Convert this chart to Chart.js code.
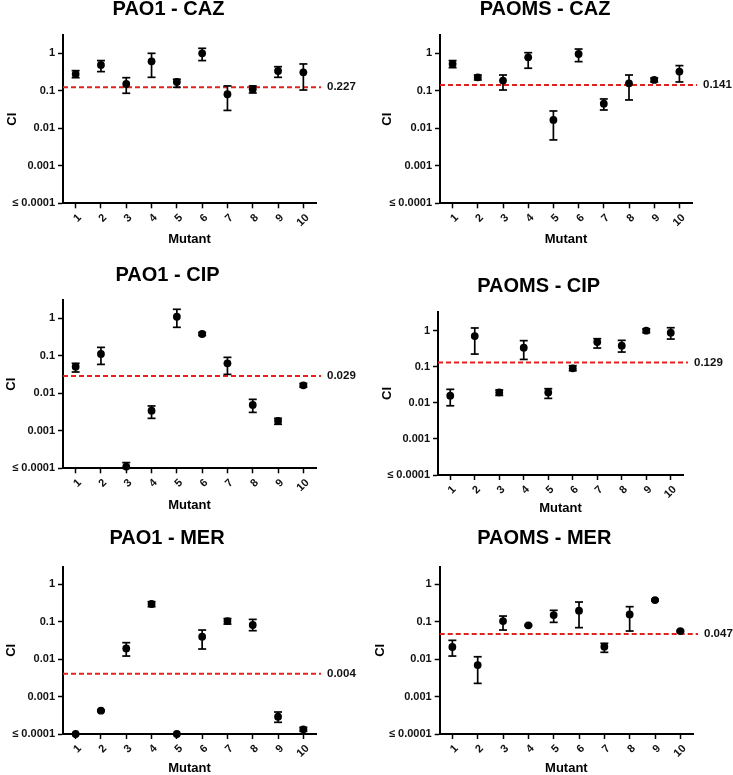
<!DOCTYPE html>
<html><head><meta charset="utf-8">
<script src="https://cdn.jsdelivr.net/npm/chart.js@4.4.1/dist/chart.umd.min.js"></script>
<style>
html,body{margin:0;padding:0;background:#fff;}
#wrap{position:relative;width:733px;height:775px;overflow:hidden;background:#fff;}
canvas{position:absolute;}
</style></head><body><div id="wrap"></div>
<script>
// ---------- data ----------
const mutants = ['1','2','3','4','5','6','7','8','9','10'];
const mutantPositions = [1,2,3,4,5,6,7,8,9,10];
const yTickValues = [0.0001, 0.001, 0.01, 0.1, 1];
const yTickLabels = ['≤ 0.0001', '0.001', '0.01', '0.1', '1'];
const panelTitles = ['PAO1 - CAZ', 'PAOMS - CAZ', 'PAO1 - CIP', 'PAOMS - CIP', 'PAO1 - MER', 'PAOMS - MER'];
const cutoffValues = [0.124, 0.143, 0.029, 0.132, 0.00406, 0.0464];
const cutoffLabels = ['0.227', '0.141', '0.029', '0.129', '0.004', '0.047'];
const yAxisMax = [3.08, 3.08, 3.08, 3.3, 2.9, 2.9];

const pao1CazCI   = [0.28, 0.49, 0.152, 0.61, 0.172, 1.0, 0.081, 0.11, 0.338, 0.311];
const pao1CazHigh = [0.345, 0.64, 0.224, 1.0, 0.203, 1.36, 0.135, 0.135, 0.44, 0.52];
const pao1CazLow  = [0.224, 0.325, 0.086, 0.229, 0.124, 0.64, 0.030, 0.0875, 0.229, 0.105];

const paomsCazCI   = [0.52, 0.229, 0.187, 0.78, 0.0167, 0.96, 0.0455, 0.158, 0.195, 0.325];
const paomsCazHigh = [0.64, 0.264, 0.264, 1.04, 0.029, 1.3, 0.0606, 0.264, 0.22, 0.47];
const paomsCazLow  = [0.415, 0.195, 0.105, 0.40, 0.0049, 0.6, 0.0308, 0.057, 0.172, 0.172];

const pao1CipCI   = [0.0514, 0.112, 0.000111, 0.00345, 1.1, 0.382, 0.063, 0.0049, 0.00183, 0.0163];
const pao1CipHigh = [0.063, 0.168, 0.000142, 0.0046, 1.74, 0.42, 0.091, 0.0069, 0.00215, 0.0183];
const pao1CipLow  = [0.037, 0.059, 0.0001, 0.00215, 0.575, 0.35, 0.032, 0.0031, 0.00149, 0.0146];

const paomsCipCI   = [0.0158, 0.71, 0.0195, 0.338, 0.0195, 0.0904, 0.485, 0.384, 1.0, 0.88];
const paomsCipHigh = [0.0237, 1.19, 0.0227, 0.53, 0.0247, 0.107, 0.6, 0.54, 1.13, 1.21];
const paomsCipLow  = [0.0083, 0.225, 0.0161, 0.16, 0.0133, 0.078, 0.331, 0.256, 0.88, 0.587];

const pao1MerCI   = [0.0001, 0.000419, 0.0192, 0.293, 0.0001, 0.0394, 0.103, 0.0807, 0.00029, 0.000133];
const pao1MerHigh = [null, 0.00044, 0.0273, 0.338, null, 0.0593, 0.12, 0.114, 0.000386, 0.00015];
const pao1MerLow  = [null, 0.0004, 0.012, 0.249, null, 0.0185, 0.0855, 0.057, 0.000205, 0.000118];

const paomsMerCI   = [0.0209, 0.0069, 0.103, 0.079, 0.149, 0.195, 0.0213, 0.155, 0.374, 0.0558];
const paomsMerHigh = [0.0315, 0.0115, 0.14, 0.083, 0.199, 0.331, 0.0262, 0.249, 0.39, 0.058];
const paomsMerLow  = [0.012, 0.00224, 0.0593, 0.075, 0.095, 0.0686, 0.0151, 0.0558, 0.355, 0.053];

const panelSeries = [
  {ci: pao1CazCI, hi: pao1CazHigh, lo: pao1CazLow},
  {ci: paomsCazCI, hi: paomsCazHigh, lo: paomsCazLow},
  {ci: pao1CipCI, hi: pao1CipHigh, lo: pao1CipLow},
  {ci: paomsCipCI, hi: paomsCipHigh, lo: paomsCipLow},
  {ci: pao1MerCI, hi: pao1MerHigh, lo: pao1MerLow},
  {ci: paomsMerCI, hi: paomsMerHigh, lo: paomsMerLow}
];

// ---------- layout (pixel geometry of each panel) ----------
const panelBoxes = [
  {left:0,   top:0,   w:367, h:260, plotL:63,   plotR:316, plotT:35,   plotB:203.3, titleX:168.5, titleY:9.5,  ciX:12, mutantY:239.3},
  {left:367, top:0,   w:366, h:260, plotL:73,   plotR:325, plotT:35,   plotB:203.3, titleX:178,   titleY:9.5,  ciX:20, mutantY:239.3},
  {left:0,   top:260, w:367, h:260, plotL:63,   plotR:316, plotT:40,   plotB:208.3, titleX:167.5, titleY:15,   ciX:11, mutantY:245},
  {left:367, top:260, w:366, h:260, plotL:71,   plotR:316, plotT:52,   plotB:215,   titleX:171.7, titleY:26.7, ciX:20, mutantY:248.3},
  {left:0,   top:520, w:367, h:255, plotL:63,   plotR:316, plotT:46.7, plotB:214,   titleX:167,   titleY:18.3, ciX:11, mutantY:248.3},
  {left:367, top:520, w:366, h:255, plotL:72.7, plotR:326, plotT:46.7, plotB:214,   titleX:177.3, titleY:18.3, ciX:13, mutantY:248.3}
];

const SANS = '"Liberation Sans", Arial, Helvetica, sans-serif';
const TICKFONT = '"Liberation Sans", "DejaVu Sans", sans-serif';
Chart.defaults.font.family = SANS;
Chart.defaults.color = '#000';

const cutoffLabelPlugin = {
  id: 'cutoffLabel',
  afterDatasetsDraw(chart, args, opts) {
    const {ctx, chartArea} = chart;
    const py = chart.scales.y.getPixelForValue(opts.value);
    ctx.save();
    ctx.font = 'bold 11.5px ' + SANS;
    ctx.fillStyle = '#111';
    ctx.textAlign = 'left';
    ctx.textBaseline = 'middle';
    ctx.fillText(opts.text, chartArea.right + 11, py);
    ctx.restore();
  }
};

function whiskers(lo, hi) {
  const pts = [];
  mutantPositions.forEach((x, i) => {
    if (lo[i] == null || hi[i] == null) return;
    pts.push({x, y: lo[i]}, {x, y: hi[i]}, {x, y: null});
  });
  return pts;
}
function pointsOf(arr) {
  const pts = [];
  mutantPositions.forEach((x, i) => { if (arr[i] != null) pts.push({x, y: arr[i]}); });
  return pts;
}

const wrap = document.getElementById('wrap');
panelBoxes.forEach((b, idx) => {
  const cv = document.createElement('canvas');
  cv.width = b.w; cv.height = b.h;
  cv.style.left = b.left + 'px'; cv.style.top = b.top + 'px';
  cv.style.width = b.w + 'px'; cv.style.height = b.h + 'px';
  wrap.appendChild(cv);

  const titleLH = 20 * 1.2, axisLH = 13 * 1.2;
  const padL = 0;
  const yW = b.plotL - padL;
  // invisible spacer on the right so that the chart title is centred like the original
  const spacerW = Math.max(0, 2 * b.titleX - padL - b.plotR);
  const padR = b.w - b.plotR - spacerW;
  const yTitlePad = b.ciX - padL - axisLH / 2;
  const tPadTop = b.titleY - titleLH / 2;
  const tPadBottom = b.plotT - titleLH - tPadTop;
  const xH = b.h - b.plotB;
  const xTitlePadBottom = b.h - b.mutantY - axisLH / 2;

  const s = panelSeries[idx];
  const c = cutoffValues[idx];

  new Chart(cv, {
    type: 'scatter',
    data: {
      datasets: [
        { label: 'CI', data: pointsOf(s.ci), pointStyle: 'circle', pointRadius: 3.9,
          backgroundColor: '#000', borderColor: '#000', borderWidth: 0, clip: false },
        { label: 'upper', data: pointsOf(s.hi), pointStyle: 'line', pointRadius: 4,
          borderColor: '#000', borderWidth: 1.7, clip: false },
        { label: 'lower', data: pointsOf(s.lo), pointStyle: 'line', pointRadius: 4,
          borderColor: '#000', borderWidth: 1.7, clip: false },
        { label: 'error', data: whiskers(s.lo, s.hi), showLine: true, spanGaps: false, pointRadius: 0,
          borderColor: '#000', borderWidth: 1.7, clip: false },
        { label: 'cutoff', data: [{x: 0.5, y: c}, {x: 10.7, y: c}], showLine: true, pointRadius: 0,
          borderColor: '#e4211c', borderWidth: 2, borderDash: [5, 3], clip: false }
      ]
    },
    options: {
      responsive: false,
      animation: false,
      devicePixelRatio: 1,
      layout: { padding: { left: padL, right: padR, top: 0, bottom: 0 } },
      plugins: {
        legend: { display: false },
        tooltip: { enabled: false },
        title: { display: true, text: panelTitles[idx], color: '#000',
          font: { family: SANS, size: 20, weight: 'bold', lineHeight: 1.2 },
          padding: { top: tPadTop, bottom: tPadBottom } },
        cutoffLabel: { value: c, text: cutoffLabels[idx] }
      },
      scales: {
        x: {
          type: 'linear', min: 0.5, max: 10.5,
          afterBuildTicks: sc => { sc.ticks = mutantPositions.map(v => ({value: v})); },
          afterFit: sc => { sc.height = xH; },
          ticks: { callback: (v, i) => mutants[i], minRotation: 45, maxRotation: 45, autoSkip: false,
            padding: 3, labelOffset: 4, color: '#111', font: { family: SANS, size: 11, weight: 'bold' } },
          grid: { drawOnChartArea: false, drawTicks: true, tickLength: 5, tickColor: '#000', tickWidth: 1.5 },
          border: { display: true, color: '#000', width: 2 },
          title: { display: true, text: 'Mutant', color: '#000',
            font: { family: SANS, size: 13, weight: 'bold', lineHeight: 1.2 },
            padding: { top: 0, bottom: xTitlePadBottom } }
        },
        y: {
          type: 'logarithmic', min: 0.0001, max: yAxisMax[idx],
          afterBuildTicks: sc => { sc.ticks = yTickValues.map(v => ({value: v})); },
          afterFit: sc => { sc.width = yW; },
          ticks: { callback: function(v, i) { return yTickLabels[yTickValues.indexOf(v)] ?? yTickLabels[i]; },
            autoSkip: false, padding: 3, color: '#111',
            font: { family: TICKFONT, size: 11, weight: 'bold' } },
          grid: { drawOnChartArea: false, drawTicks: true, tickLength: 5, tickColor: '#000', tickWidth: 1.5 },
          border: { display: true, color: '#000', width: 2 },
          title: { display: true, text: 'CI', color: '#000',
            font: { family: SANS, size: 13, weight: 'bold', lineHeight: 1.2 },
            padding: { top: yTitlePad, bottom: 0 } }
        },
        spacer: {
          type: 'linear', position: 'right', display: true,
          afterFit: sc => { sc.width = spacerW; },
          ticks: { display: false },
          grid: { display: false, drawTicks: false },
          border: { display: false },
          title: { display: false }
        }
      }
    },
    plugins: [cutoffLabelPlugin]
  });
});
</script>
</body></html>
